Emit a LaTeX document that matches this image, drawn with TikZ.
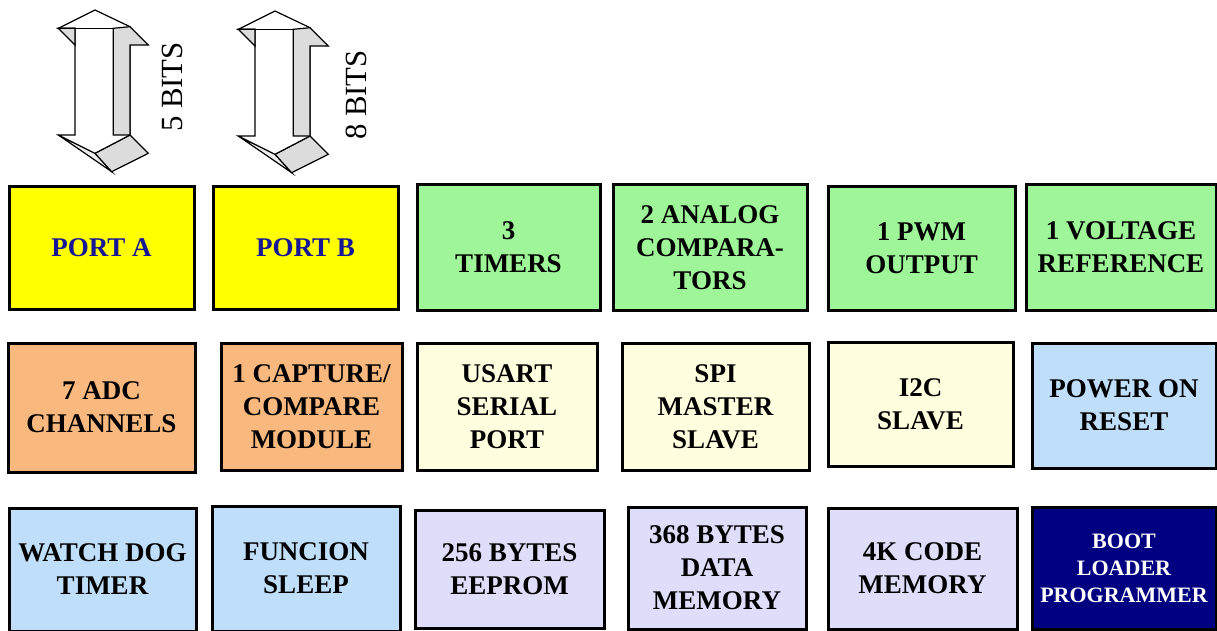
\documentclass[tikz,border=0pt]{standalone}
\usepackage{fontspec}
\setmainfont{Liberation Serif}
\definecolor{cyellow}{RGB}{255,255,0}
\definecolor{cgreen}{RGB}{158,246,152}
\definecolor{corange}{RGB}{249,184,126}
\definecolor{cpale}{RGB}{255,254,222}
\definecolor{cblue}{RGB}{190,222,250}
\definecolor{clav}{RGB}{222,222,250}
\definecolor{cnavy}{RGB}{0,0,128}
\definecolor{ctext}{RGB}{22,22,150}
\definecolor{cgrey}{RGB}{220,220,220}
\definecolor{cgreyl}{RGB}{238,238,238}
\tikzset{
  box/.style={draw=black, line width=1.5pt, align=center, inner sep=0pt,
    font=\bfseries\fontsize{13.5}{16.5}\selectfont, text=black},
  arrline/.style={draw=black, line width=0.6pt, line join=miter},
  bits/.style={rotate=90, inner sep=0pt, font=\fontsize{15.4}{18}\selectfont}
}
\newcommand{\dblarrow}{%
  \path[arrline, fill=cgreyl] (58.3,135) -- (95,153.3) -- (111.7,171.7) -- cycle;
  \path[arrline, fill=cgrey] (95,153.3) -- (130,135) -- (148.3,153.3) -- (111.7,171.7) -- cycle;
  \path[arrline, fill=white] (95,10) -- (130,26.7) -- (130,135) -- (95,153.3) -- (58.3,135) -- (75,135) -- (75,28.3) -- (58.3,28.3) -- cycle;
  \path[arrline, fill=cgrey] (58.3,28.3) -- (75,28.3) -- (75,45) -- cycle;
  \path[arrline, fill=cgrey] (113.3,28.3) -- (130,26.7) -- (148.3,45) -- (130,45) -- (130,135) -- (113.3,135) -- cycle;
  \path[arrline] (75,28.3) -- (113.3,28.3);
}
\begin{document}
\begin{tikzpicture}[x=0.5pt,y=-0.5pt]
\useasboundingbox (0,0) rectangle (1217,631);
\fill[white] (0,0) rectangle (1217,631);

% bus arrows
\begin{scope}
\dblarrow
\end{scope}
\begin{scope}[shift={(180,1)}]
\dblarrow
\end{scope}
\node[bits] (b5) at (172,87) {5 BITS};
\node[bits] (b8) at (356,95) {8 BITS};

% row 1
\node[box, fill=cyellow, text=ctext, minimum width=92.5pt, minimum height=61pt] (pa) at (101.5,248) {PORT A};
\node[box, fill=cyellow, text=ctext, minimum width=92.5pt, minimum height=61pt] (pb) at (305.5,248) {PORT B};
\node[box, fill=cgreen, minimum width=91.5pt, minimum height=62.5pt] (tm) at (508.5,247.5) {3\\TIMERS};
\node[box, fill=cgreen, minimum width=97pt, minimum height=62.5pt] (ac) at (710,247.5) {2 ANALOG\\COMPARA-\\TORS};
\node[box, fill=cgreen, minimum width=93.5pt, minimum height=61.5pt] (pwm) at (921.5,248.5) {1 PWM\\OUTPUT};
\node[box, fill=cgreen, minimum width=95pt, minimum height=62.5pt] (vr) at (1121,247.5) {1 VOLTAGE\\REFERENCE};

% row 2
\node[box, fill=corange, minimum width=93.5pt, minimum height=64.5pt] (adc) at (101.5,407.5) {7 ADC\\CHANNELS};
\node[box, fill=corange, minimum width=90.5pt, minimum height=63.5pt] (ccp) at (311.5,406.5) {1 CAPTURE/\\COMPARE\\MODULE};
\node[box, fill=cpale, minimum width=90pt, minimum height=63.5pt] (us) at (507,406.5) {USART\\SERIAL\\PORT};
\node[box, fill=cpale, minimum width=93.5pt, minimum height=63.5pt] (spi) at (715.5,406.5) {SPI\\MASTER\\SLAVE};
\node[box, fill=cpale, minimum width=92.5pt, minimum height=62pt] (i2c) at (920.5,404) {I2C\\SLAVE};
\node[box, fill=cblue, minimum width=92pt, minimum height=62.5pt] (por) at (1124,405.5) {POWER ON\\RESET};

% row 3
\node[box, fill=cblue, minimum width=93.5pt, minimum height=61.5pt] (wd) at (102.5,569.5) {WATCH DOG\\TIMER};
\node[box, fill=cblue, minimum width=94pt, minimum height=62.5pt] (fs) at (306,568.5) {FUNCION\\SLEEP};
\node[box, fill=clav, minimum width=94.5pt, minimum height=59pt] (ee) at (509.5,569) {256 BYTES\\EEPROM};
\node[box, fill=clav, minimum width=89pt, minimum height=61pt] (dm) at (717,568) {368 BYTES\\DATA\\MEMORY};
\node[box, fill=clav, minimum width=94.5pt, minimum height=60.5pt] (cm) at (922.5,568.5) {4K CODE\\MEMORY};
\node[box, fill=cnavy, text=white, minimum width=92pt, minimum height=61pt,
  font=\bfseries\fontsize{11}{13.5}\selectfont] (bl) at (1124,568) {BOOT\\LOADER\\PROGRAMMER};
\end{tikzpicture}
\end{document}
